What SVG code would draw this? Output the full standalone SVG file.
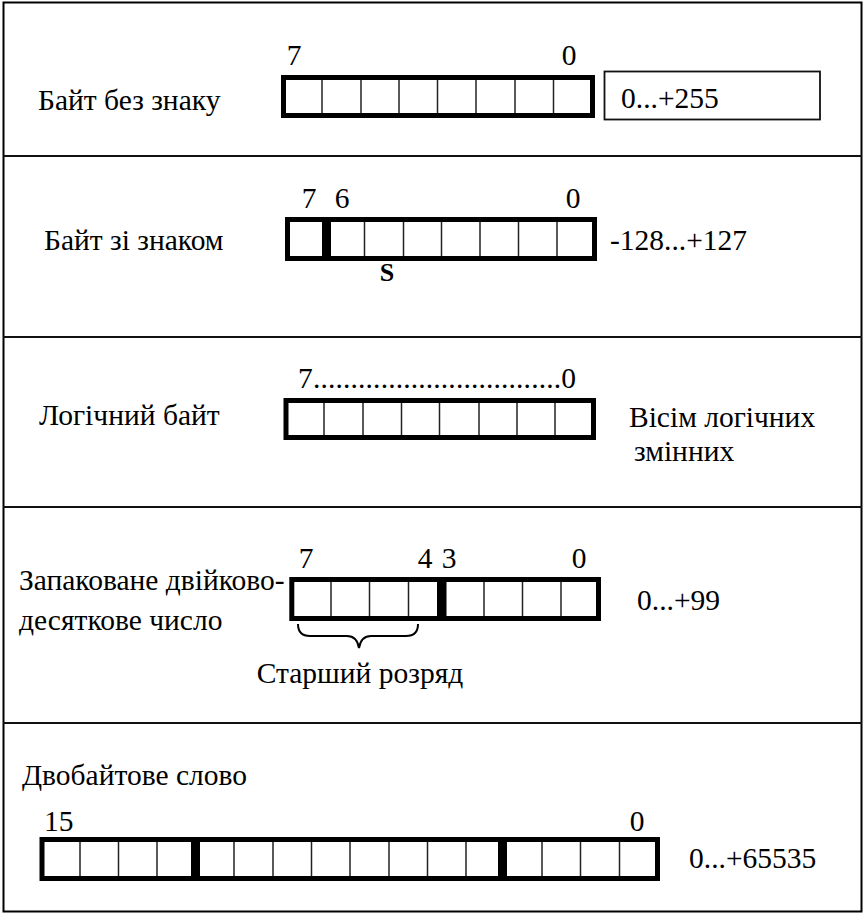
<svg xmlns="http://www.w3.org/2000/svg" width="865" height="914" viewBox="0 0 865 914">
<style>
text{font-family:'Liberation Serif','Times New Roman',serif;font-size:29.5px;fill:#000}
.m{text-anchor:middle}
.frame{fill:none;stroke:#000;stroke-width:2}
.sep{stroke:#111;stroke-width:2}
.box{fill:#fff;stroke:#000;stroke-width:5}
.cell{stroke:#222;stroke-width:1.5}
.thick{fill:#000}
.val{fill:none;stroke:#111;stroke-width:1.8}
.brace{fill:none;stroke:#000;stroke-width:2}
.s{font-weight:bold;font-size:26px}
</style>
<rect width="865" height="914" fill="#fff"/>
<g id="frame">
<rect class="frame" x="3.5" y="2.5" width="858" height="909"/>
<line class="sep" x1="3" y1="156" x2="862" y2="156"/>
<line class="sep" x1="3" y1="337" x2="862" y2="337"/>
<line class="sep" x1="3" y1="507" x2="862" y2="507"/>
<line class="sep" x1="3" y1="723" x2="862" y2="723"/>
</g>
<g id="row1">
<text x="38" y="110">Байт без знаку</text>
<text class="m" x="294" y="65">7</text>
<text class="m" x="569" y="65">0</text>
<rect class="box" x="283.5" y="77.5" width="309" height="38"/>
<g class="cell">
<line x1="322" y1="80" x2="322" y2="113"/>
<line x1="361" y1="80" x2="361" y2="113"/>
<line x1="399" y1="80" x2="399" y2="113"/>
<line x1="437.5" y1="80" x2="437.5" y2="113"/>
<line x1="476" y1="80" x2="476" y2="113"/>
<line x1="515" y1="80" x2="515" y2="113"/>
<line x1="553.5" y1="80" x2="553.5" y2="113"/>
</g>
<rect class="val" x="604.5" y="71.5" width="215.5" height="48"/>
<text x="621" y="108">0...+255</text>
</g>
<g id="row2">
<text x="44" y="250">Байт зі знаком</text>
<text class="m" x="309" y="208">7</text>
<text class="m" x="342" y="208">6</text>
<text class="m" x="573" y="208">0</text>
<rect class="box" x="287.5" y="219.5" width="307" height="39"/>
<rect class="thick" x="322" y="219" width="9" height="40"/>
<g class="cell">
<line x1="364.5" y1="222" x2="364.5" y2="256"/>
<line x1="403.5" y1="222" x2="403.5" y2="256"/>
<line x1="441.5" y1="222" x2="441.5" y2="256"/>
<line x1="480" y1="222" x2="480" y2="256"/>
<line x1="518.5" y1="222" x2="518.5" y2="256"/>
<line x1="557" y1="222" x2="557" y2="256"/>
</g>
<text class="m s" x="387" y="281">S</text>
<text x="610" y="250">-128...+127</text>
</g>
<g id="row3">
<text x="39" y="425">Логічний байт</text>
<text x="298" y="388" textLength="278" lengthAdjust="spacing">7.................................0</text>
<rect class="box" x="286" y="400.5" width="307.5" height="37"/>
<g class="cell">
<line x1="324" y1="403" x2="324" y2="435"/>
<line x1="363" y1="403" x2="363" y2="435"/>
<line x1="401.5" y1="403" x2="401.5" y2="435"/>
<line x1="439.5" y1="403" x2="439.5" y2="435"/>
<line x1="479" y1="403" x2="479" y2="435"/>
<line x1="517" y1="403" x2="517" y2="435"/>
<line x1="555" y1="403" x2="555" y2="435"/>
</g>
<text x="629" y="427">Вісім логічних</text>
<text x="634" y="461">змінних</text>
</g>
<g id="row4">
<text x="19" y="590">Запаковане двійково-</text>
<text x="19" y="630">десяткове число</text>
<text class="m" x="306" y="568">7</text>
<text class="m" x="425" y="568">4</text>
<text class="m" x="449" y="568">3</text>
<text class="m" x="579" y="568">0</text>
<rect class="box" x="291.8" y="579.5" width="306.7" height="39"/>
<rect class="thick" x="437" y="579" width="9.5" height="40"/>
<g class="cell">
<line x1="331" y1="582" x2="331" y2="616"/>
<line x1="369.5" y1="582" x2="369.5" y2="616"/>
<line x1="408.5" y1="582" x2="408.5" y2="616"/>
<line x1="484" y1="582" x2="484" y2="616"/>
<line x1="522.5" y1="582" x2="522.5" y2="616"/>
<line x1="561" y1="582" x2="561" y2="616"/>
</g>
<path class="brace" d="M298,624 Q298,636 310,636 L347,636 Q357,636 359,648 Q361,636 371,636 L406,636 Q418,636 418,624"/>
<text class="m" x="360" y="683">Старший розряд</text>
<text x="637" y="610">0...+99</text>
</g>
<g id="row5">
<text x="22" y="785">Двобайтове слово</text>
<text x="44" y="831">15</text>
<text class="m" x="637" y="831">0</text>
<rect class="box" x="42" y="839.5" width="615.5" height="39"/>
<rect class="thick" x="191" y="839" width="9" height="40"/>
<rect class="thick" x="498" y="839" width="9" height="40"/>
<g class="cell">
<line x1="80" y1="842" x2="80" y2="876"/>
<line x1="118.5" y1="842" x2="118.5" y2="876"/>
<line x1="157" y1="842" x2="157" y2="876"/>
<line x1="234" y1="842" x2="234" y2="876"/>
<line x1="273" y1="842" x2="273" y2="876"/>
<line x1="311.5" y1="842" x2="311.5" y2="876"/>
<line x1="350" y1="842" x2="350" y2="876"/>
<line x1="389" y1="842" x2="389" y2="876"/>
<line x1="427.5" y1="842" x2="427.5" y2="876"/>
<line x1="466" y1="842" x2="466" y2="876"/>
<line x1="542" y1="842" x2="542" y2="876"/>
<line x1="580.5" y1="842" x2="580.5" y2="876"/>
<line x1="619.5" y1="842" x2="619.5" y2="876"/>
</g>
<text x="689" y="868">0...+65535</text>
</g>
</svg>
